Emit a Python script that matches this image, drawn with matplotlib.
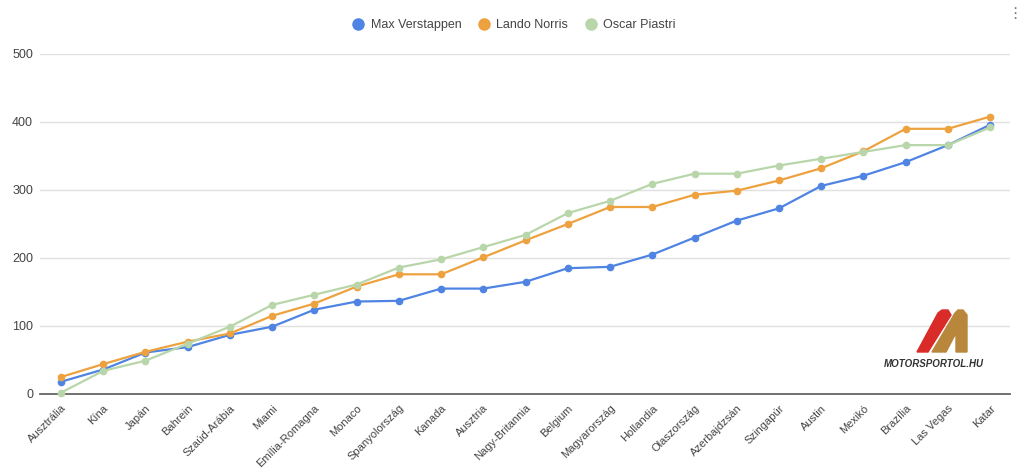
import matplotlib.pyplot as plt
from matplotlib.patches import Polygon
from matplotlib.lines import Line2D

plt.rcParams['font.family'] = ['Liberation Sans', 'DejaVu Sans']

races = ['Ausztrália', 'Kína', 'Japán', 'Bahrein', 'Szaúd-Arábia', 'Miami',
         'Emília-Romagna', 'Monaco', 'Spanyolország', 'Kanada', 'Ausztria',
         'Nagy-Britannia', 'Belgium', 'Magyarország', 'Hollandia', 'Olaszország',
         'Azerbajdzsán', 'Szingapúr', 'Austin', 'Mexikó', 'Brazília', 'Las Vegas', 'Katar']
verstappen = [18, 36, 61, 69, 87, 99, 124, 136, 137, 155, 155, 165, 185, 187,
              205, 230, 255, 273, 306, 321, 341, 366, 396]
norris = [25, 44, 62, 77, 89, 115, 133, 158, 176, 176, 201, 226, 250, 275,
          275, 293, 299, 314, 332, 357, 390, 390, 408]
piastri = [2, 34, 49, 74, 99, 131, 146, 161, 186, 198, 216, 234, 266, 284,
           309, 324, 324, 336, 346, 356, 366, 366, 392]

names = ['Max Verstappen', 'Lando Norris', 'Oscar Piastri']
colors = ['#4f84e3', '#eda23f', '#b8d6aa']

fig = plt.figure(figsize=(10.24, 4.74), dpi=100)
ax = fig.add_axes([40/1024, 80/474, 970/1024, 340/474])

x = range(len(races))
for ys, c, n in zip([verstappen, norris, piastri], colors, names):
    ax.plot(x, ys, color=c, lw=1.6, marker='o', ms=4.5, label=n, clip_on=False, zorder=3)

ax.set_xlim(-0.497, 22.47)
ax.set_ylim(0, 500)
ax.set_yticks([0, 100, 200, 300, 400, 500])
ax.yaxis.grid(True, color='#e0e0e0', lw=1)
ax.set_axisbelow(True)
for s in ['top', 'right', 'left']:
    ax.spines[s].set_visible(False)
ax.spines['bottom'].set_color('#666666')
ax.spines['bottom'].set_linewidth(1.3)
ax.tick_params(axis='both', length=0, labelsize=9, colors='#444444')
ax.tick_params(axis='y', pad=5)
ax.set_xticks(list(x))
ax.set_xticklabels(races, rotation=45, ha='right', rotation_mode='anchor', fontsize=8)
for lab in ax.get_xticklabels():
    lab.set_y(-0.012)

handles = [Line2D([], [], color=c, marker='o', ls='', ms=8) for c in colors]
fig.legend(handles, names, loc='center', bbox_to_anchor=(0.5, 1 - 25/474), ncol=3,
           frameon=False, fontsize=9, labelcolor='#444444', handletextpad=0.2,
           columnspacing=1.0, handlelength=1.6)

# logo
def px(xp, yp):
    return (xp/1024, 1 - yp/474)

red = [px(917, 352), px(928, 352), px(951, 315), px(948, 310), px(942, 310), px(938, 313)]
gold = [px(932, 352), px(955, 313), px(958, 310), px(963, 310), px(967, 315),
        px(967, 352), px(956, 352), px(956, 333), px(946, 352)]
fig.patches.append(Polygon(red, closed=True, transform=fig.transFigure, color='#d92b27', zorder=5))
fig.patches.append(Polygon(gold, closed=True, transform=fig.transFigure, color='#b8873c', zorder=5))
fig.text(934/1024, 1 - 364/474, 'MOTORSPORTOL.HU', ha='center', va='center',
         fontsize=7, fontweight='bold', style='italic', color='#333333')

fig.text(1015/1024, 1 - 14/474, '⋮', ha='center', va='center', fontsize=11, color='#777777')

plt.savefig('out.png', dpi=100)
